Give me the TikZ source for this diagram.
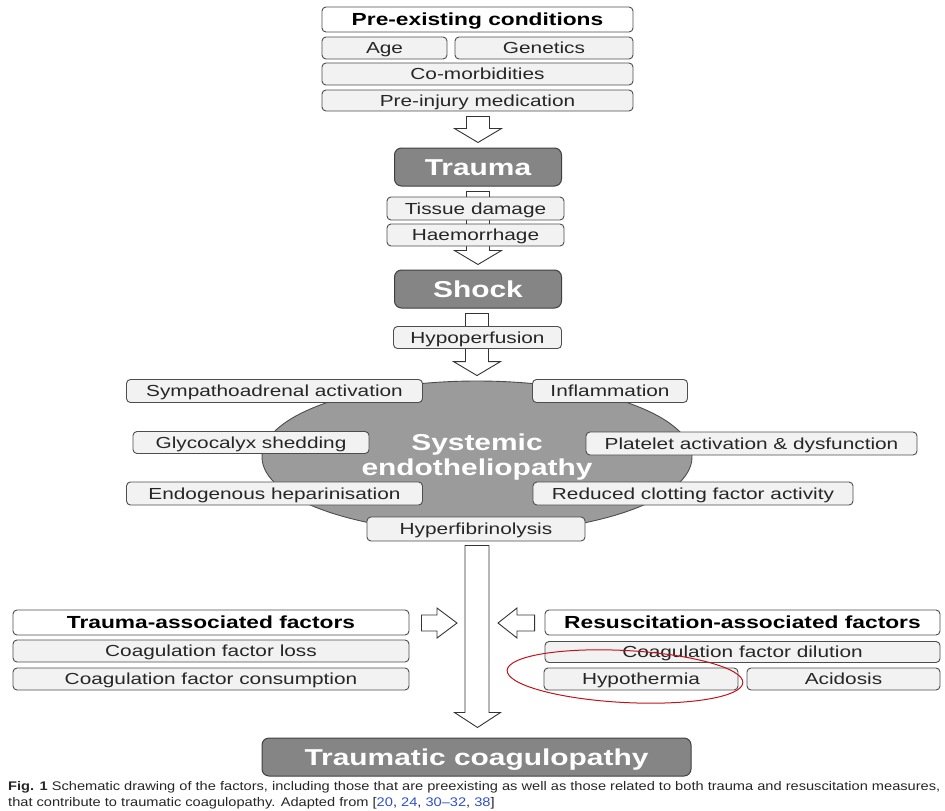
\documentclass[tikz,border=0pt]{standalone}
\usepackage{fontspec}
\setmainfont{Liberation Sans}[FakeStretch=1.3]
\newfontfamily\capfont{Liberation Sans}[FakeStretch=1.17]
\usetikzlibrary{calc,backgrounds,shapes.geometric}

\definecolor{boxfill}{HTML}{F2F2F2}
\definecolor{linegray}{HTML}{4D4D4D}
\definecolor{stagegray}{HTML}{858585}
\definecolor{endogray}{HTML}{9B9B9B}
\definecolor{citeblue}{HTML}{2F4FC8}
\definecolor{markred}{HTML}{C0141C}

\tikzset{
  factor/.style={draw=linegray, fill=boxfill, line width=0.9pt, rounded corners=4pt,
    minimum height=22pt, inner sep=0pt, text height=12pt, text depth=0.5pt,
    text=black!85, font=\fontsize{16}{17}\selectfont},
  factorhead/.style={factor, fill=white, minimum height=25pt, text=black,
    text height=12.8pt, font=\bfseries\fontsize{17.5}{18}\selectfont},
  stage/.style={draw=black!75, fill=stagegray, line width=1pt, rounded corners=7pt,
    inner sep=0pt, text height=16.8pt, text depth=0.3pt, text=white,
    font=\bfseries\fontsize{23}{25}\selectfont},
  hollow/.style={draw=black!80, fill=white, line width=0.9pt, line join=miter},
}

% hollow block arrows (from node, to node / coordinate)
\newcommand{\hollowdown}[2]{%
  \draw[hollow] let \p1=(#1.south), \p2=(#2.north) in
    (\x2-11.5pt,\y1-5pt) -- (\x2+11.5pt,\y1-5pt) -- (\x2+11.5pt,\y2+19pt)
    -- (\x2+23.5pt,\y2+19pt) -- (\x2,\y2+5pt) -- (\x2-23.5pt,\y2+19pt)
    -- (\x2-11.5pt,\y2+19pt) -- cycle;}
\newcommand{\hollowright}[2]{%
  \draw[hollow] let \p1=(#1.east), \p2=(#2) in
    (\x1+12pt,\y2+8pt) -- (\x2-20pt,\y2+8pt) -- (\x2-20pt,\y2+15pt)
    -- (\x2,\y2) -- (\x2-20pt,\y2-15pt) -- (\x2-20pt,\y2-8pt)
    -- (\x1+12pt,\y2-8pt) -- cycle;}
\newcommand{\hollowleft}[2]{%
  \draw[hollow] let \p1=(#1.west), \p2=(#2) in
    (\x1-10pt,\y2+8pt) -- (\x2+19pt,\y2+8pt) -- (\x2+19pt,\y2+15pt)
    -- (\x2,\y2) -- (\x2+19pt,\y2-15pt) -- (\x2+19pt,\y2-8pt)
    -- (\x1-10pt,\y2-8pt) -- cycle;}

\begin{document}
\begin{tikzpicture}[x=1pt, y=-1pt]
    \useasboundingbox (0,0) rectangle (945,811);

    % Pre-existing conditions
    \node[factorhead, minimum width=311] (pre) at (477.5,19.5) {Pre-existing conditions};
    \node[factor, minimum width=125] (age) at (384.5,48) {Age};
    \node[factor, minimum width=178] (genetics) at (544,48) {Genetics};
    \node[factor, minimum width=311] (comorb) at (477.5,74) {Co-morbidities};
    \node[factor, minimum width=311, minimum height=21] (medic) at (477.5,100.5) {Pre-injury medication};

    % Trauma and shock
    \node[stage, minimum width=167, minimum height=38] (trauma) at (478,167) {Trauma};
    \node[factor, minimum width=177, minimum height=23] (tissue) at (475.5,208.5) {Tissue damage};
    \node[factor, minimum width=177] (haem) at (475.5,235) {Haemorrhage};
    \node[stage, minimum width=167, minimum height=38] (shock) at (478,289) {Shock};
    \node[factor, minimum width=168] (hypoperf) at (477.5,337.5) {Hypoperfusion};

    % Systemic endotheliopathy
    \node[ellipse, draw=black!70, fill=endogray, line width=0.9pt, minimum width=430,
        minimum height=152, inner sep=0pt, align=center, text=white,
        font=\bfseries\fontsize{23}{25}\selectfont] (endo) at (477,457)
        {Systemic\\endotheliopathy};
    \node[factor, minimum width=296, minimum height=23] (sympath) at (274.5,391) {Sympathoadrenal activation};
    \node[factor, minimum width=155, minimum height=23] (inflam) at (610,391) {Inflammation};
    \node[factor, minimum width=236, minimum height=22] (glyco) at (251,442.5) {Glycocalyx shedding};
    \node[factor, minimum width=331, minimum height=23] (platelet) at (751.5,443.5) {Platelet activation \& dysfunction};
    \node[factor, minimum width=296, minimum height=23] (heparin) at (274.5,493.5) {Endogenous heparinisation};
    \node[factor, minimum width=320, minimum height=23] (clotting) at (693,493.5) {Reduced clotting factor activity};
    \node[factor, minimum width=218, minimum height=24] (hyperfib) at (476,529) {Hyperfibrinolysis};

    % Trauma- and resuscitation-associated factors
    \node[factorhead, minimum width=396] (traumafac) at (211,622.5) {Trauma-associated factors};
    \node[factor, minimum width=396] (factorloss) at (211,651) {Coagulation factor loss};
    \node[factor, minimum width=396] (factorcons) at (211,679) {Coagulation factor consumption};
    \node[factorhead, minimum width=395] (resusfac) at (742.5,622.5) {Resuscitation-associated factors};
    \node[factor, minimum width=395, minimum height=21] (factordil) at (742.5,652) {Coagulation factor dilution};
    \node[factor, minimum width=194] (hypotherm) at (641,679) {Hypothermia};
    \node[factor, minimum width=193] (acidosis) at (843.5,679) {Acidosis};

    \node[stage, minimum width=429, minimum height=38] (coagulo) at (476.5,757) {Traumatic coagulopathy};

    % free ends on the main shaft
    \coordinate (shaftleft) at (457,623);
    \coordinate (shaftright) at (498,623);

    % Block arrows behind the boxes
    \begin{pgfonlayer}{background}
        \hollowdown{medic}{trauma}
        \hollowdown{trauma}{shock}
        \hollowdown{shock}{endo}
        \draw[hollow] let \p1=(hyperfib.south), \p2=(coagulo.north) in
            (\x2-11.5pt,\y1-4pt) -- (\x2+12.5pt,\y1-4pt) -- (\x2+12.5pt,\y2+25pt)
            -- (\x2+24pt,\y2+25pt) -- (\x2+1pt,\y2+10pt) -- (\x2-22pt,\y2+25pt)
            -- (\x2-11.5pt,\y2+25pt) -- cycle;
    \end{pgfonlayer}
    \hollowright{traumafac}{shaftleft}
    \hollowleft{resusfac}{shaftright}

    % Red mark
    \draw[markred, line width=1pt, rotate around={-3:(625,676.5)}] (625,676.5) ellipse [x radius=118, y radius=26];

    % Caption
    \node[anchor=north west, align=left, inner sep=0pt, text=black!85,
        font=\capfont\fontsize{12.5}{16}\selectfont] (caption) at (8,781)
        {\textbf{Fig. 1} Schematic drawing of the factors, including those that are preexisting as well as those related to both trauma and resuscitation measures,\\
        that contribute to traumatic coagulopathy. Adapted from [\textcolor{citeblue}{20}, \textcolor{citeblue}{24}, \textcolor{citeblue}{30\textendash 32}, \textcolor{citeblue}{38}]};
\end{tikzpicture}
\end{document}
